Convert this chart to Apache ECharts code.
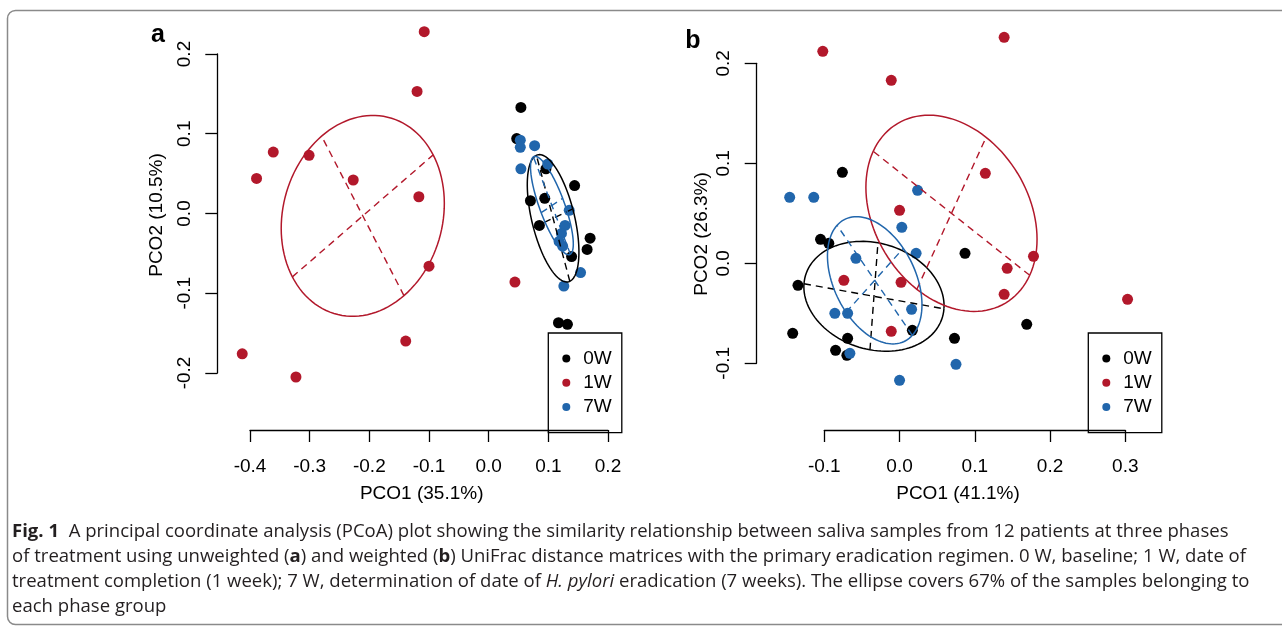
<!DOCTYPE html>
<html>
<head>
<meta charset="utf-8">
<script src="https://cdn.jsdelivr.net/npm/echarts@6/dist/echarts.min.js"></script>
<style>
  html, body { margin: 0; padding: 0; background: #fff; }
  #chart { width: 1282px; height: 628px; }
</style>
</head>
<body>
<div id="chart"></div>
<script>
// panel a - unweighted UniFrac, points as [PCO1, PCO2]
const a0W = [[0.054, 0.133], [0.047, 0.094], [0.096, 0.056], [0.144, 0.035], [0.070, 0.016], [0.094, 0.019],
             [0.085, -0.015], [0.170, -0.031], [0.165, -0.045], [0.139, -0.054], [0.117, -0.137], [0.132, -0.139]];
const a1W = [[-0.108, 0.228], [-0.120, 0.153], [-0.361, 0.077], [-0.301, 0.073], [-0.389, 0.044], [-0.227, 0.042],
             [-0.117, 0.021], [-0.100, -0.066], [0.044, -0.086], [-0.139, -0.160], [-0.413, -0.176], [-0.323, -0.205]];
const a7W = [[0.053, 0.092], [0.053, 0.083], [0.077, 0.085], [0.054, 0.056], [0.099, 0.062], [0.135, 0.004],
             [0.128, -0.015], [0.122, -0.025], [0.118, -0.035], [0.124, -0.041], [0.154, -0.074], [0.126, -0.091]];

// panel b - weighted UniFrac
const b0W = [[-0.076, 0.091], [-0.105, 0.024], [-0.094, 0.020], [0.087, 0.010], [-0.135, -0.022], [-0.142, -0.070],
             [-0.069, -0.075], [0.017, -0.067], [0.073, -0.075], [0.169, -0.061], [-0.085, -0.087], [-0.070, -0.092]];
const b1W = [[-0.102, 0.212], [0.139, 0.226], [-0.011, 0.183], [0.114, 0.090], [0.000, 0.053], [0.178, 0.007],
             [0.143, -0.005], [-0.074, -0.017], [0.002, -0.019], [0.139, -0.031], [0.303, -0.036], [-0.011, -0.068]];
const b7W = [[-0.146, 0.066], [-0.114, 0.066], [0.024, 0.073], [0.003, 0.036], [0.022, 0.010], [-0.058, 0.005],
             [-0.086, -0.050], [-0.069, -0.050], [0.016, -0.046], [-0.066, -0.090], [0.075, -0.101], [0.000, -0.117]];

// 67% ellipses: [centreX, centreY, semi-axis 1 (dx, dy), semi-axis 2 (dx, dy)]
const ellA0W = [0.108, -0.006, -0.028, 0.079, 0.033, 0.0117];
const ellA1W = [-0.211, -0.003, -0.069, 0.100, 0.118, 0.0765];
const ellA7W = [0.106, 0.010, -0.031, 0.061, 0.018, 0.009];
const ellB0W = [-0.034, -0.033, 0.093, -0.0125, 0.0053, 0.0535];
const ellB1W = [0.069, 0.050, -0.104, 0.062, 0.046, 0.076];
const ellB7W = [-0.033, -0.017, -0.050, 0.055, 0.038, 0.032];

const groups = ['0W', '1W', '7W'];
const colors = ['#000000', '#B2182B', '#2166AC'];
const ticksA = { x: [-0.4, 0.2], y: [-0.2, 0.2] };
const ticksB = { x: [-0.1, 0.3], y: [-0.1, 0.2] };

const FONT = 'Liberation Sans, Arial, sans-serif';
const CAP_FONT = 'Open Sans';

const chart = echarts.init(document.getElementById('chart'));

// ellipse outline plus its two axes (dashed)
function drawEllipse(params, api) {
  const cx = api.value(0), cy = api.value(1);
  const ux = api.value(2), uy = api.value(3), vx = api.value(4), vy = api.value(5);
  const pts = [];
  for (let k = 0; k <= 120; k++) {
    const t = k / 120 * 2 * Math.PI;
    pts.push(api.coord([cx + Math.cos(t) * ux + Math.sin(t) * vx, cy + Math.cos(t) * uy + Math.sin(t) * vy]));
  }
  const color = api.visual('color');
  const p1 = api.coord([cx - ux, cy - uy]), p2 = api.coord([cx + ux, cy + uy]);
  const q1 = api.coord([cx - vx, cy - vy]), q2 = api.coord([cx + vx, cy + vy]);
  const dash = { stroke: color, lineWidth: 1.4, lineDash: [7, 5], fill: null };
  return {
    type: 'group',
    children: [
      { type: 'polyline', shape: { points: pts }, style: { stroke: color, lineWidth: 1.5, fill: null } },
      { type: 'line', shape: { x1: p1[0], y1: p1[1], x2: p2[0], y2: p2[1] }, style: dash },
      { type: 'line', shape: { x1: q1[0], y1: q1[1], x2: q2[0], y2: q2[1] }, style: dash }
    ]
  };
}

function valueAxis(grid, range, offset, name, nameGap, namePad, isY) {
  return {
    type: 'value',
    gridIndex: grid,
    min: range[0],
    max: range[1],
    interval: 0.1,
    offset: offset,
    name: name,
    nameLocation: 'middle',
    nameGap: nameGap,
    nameTextStyle: { fontFamily: FONT, fontSize: 19, color: '#000', padding: namePad },
    axisLine: { show: true, onZero: false, lineStyle: { color: '#000', width: 1.3 } },
    axisTick: { show: true, length: 12, lineStyle: { color: '#000', width: 1.3 } },
    axisLabel: {
      fontFamily: FONT, fontSize: 19, color: '#000',
      margin: isY ? 23 : 27,
      rotate: isY ? 90 : 0,
      formatter: v => v.toFixed(1)
    },
    splitLine: { show: false }
  };
}

function legendBox(left) {
  return {
    data: groups,
    orient: 'vertical',
    left: left,
    top: 333,
    padding: [16, 10, 16, 14],
    itemWidth: 8,
    itemHeight: 8,
    itemGap: 5.3,
    icon: 'circle',
    borderColor: '#000',
    borderWidth: 1.3,
    selectedMode: false,
    textStyle: { fontFamily: FONT, fontSize: 19, color: '#000', lineHeight: 18, padding: [0, 0, 0, 8] }
  };
}

const series = [];
[[a0W, a1W, a7W], [b0W, b1W, b7W]].forEach((sets, p) => {
  const ells = p === 0 ? [ellA0W, ellA1W, ellA7W] : [ellB0W, ellB1W, ellB7W];
  sets.forEach((pts, i) => {
    series.push({
      type: 'scatter', name: groups[i], xAxisIndex: p, yAxisIndex: p,
      data: pts, symbolSize: 11, clip: false, silent: true, z: 3,
      itemStyle: { color: colors[i], opacity: 1 }
    });
    series.push({
      type: 'custom', name: 'ellipse ' + groups[i], xAxisIndex: p, yAxisIndex: p,
      data: [ells[i]], renderItem: drawEllipse, clip: false, silent: true, z: 4,
      itemStyle: { color: colors[i] }
    });
  });
});

// caption, squeezed horizontally to the column width of the journal layout
const capLines = [
  [['Fig. 1', 'b'], ['  A principal coordinate analysis (PCoA) plot showing the similarity relationship between saliva samples from 12 patients at three phases', 'n']],
  [['of treatment using unweighted (', 'n'], ['a', 'b'], [') and weighted (', 'n'], ['b', 'b'], [') UniFrac distance matrices with the primary eradication regimen. 0 W, baseline; 1 W, date of', 'n']],
  [['treatment completion (1 week); 7 W, determination of date of ', 'n'], ['H. pylori', 'i'], [' eradication (7 weeks). The ellipse covers 67% of the samples belonging to', 'n']],
  [['each phase group', 'n']]
];
const capSize = 18;
const ctx = document.createElement('canvas').getContext('2d');
function fontOf(k) {
  return (k === 'i' ? 'italic ' : '') + (k === 'b' ? 'bold ' : '') + capSize + 'px "' + CAP_FONT + '"';
}
function lineWidth(segs) {
  return segs.reduce((w, s) => { ctx.font = fontOf(s[1]); return w + ctx.measureText(s[0]).width; }, 0);
}
const capScale = (1246 - 12) / lineWidth(capLines[1]);
const capRich = {
  n: { fontFamily: CAP_FONT, fontSize: capSize, fill: '#231F20' },
  b: { fontFamily: CAP_FONT, fontSize: capSize, fontWeight: 'bold', fill: '#231F20' },
  i: { fontFamily: CAP_FONT, fontSize: capSize, fontStyle: 'italic', fill: '#231F20' }
};
const capY = [532, 557, 582, 607];
const graphics = capLines.map((segs, i) => ({
  type: 'text', x: 12, y: capY[i], scaleX: capScale,
  style: {
    text: segs.map(s => '{' + s[1] + '|' + s[0] + '}').join(''),
    rich: capRich, fontFamily: CAP_FONT, fontSize: capSize, verticalAlign: 'middle', align: 'left'
  }
}));
graphics.push(
  { type: 'rect', shape: { x: 7.5, y: 10.5, width: 1300, height: 614, r: 8 }, style: { fill: null, stroke: '#8a8a8a', lineWidth: 1.5 } },
  { type: 'text', x: 158, y: 35, style: { text: 'a', fontFamily: FONT, fontSize: 25, fontWeight: 'bold', fill: '#000', align: 'center', verticalAlign: 'middle' } },
  { type: 'text', x: 693, y: 41, style: { text: 'b', fontFamily: FONT, fontSize: 25, fontWeight: 'bold', fill: '#000', align: 'center', verticalAlign: 'middle' } }
);

chart.setOption({
  animation: false,
  backgroundColor: '#fff',
  grid: [
    { left: 250, top: 54, width: 358, height: 319 },
    { left: 824.3, top: 63.3, width: 301, height: 300 }
  ],
  xAxis: [
    valueAxis(0, ticksA.x, 57, 'PCO1 (35.1%)', 54, [0, 14.6, 0, 0], false),
    valueAxis(1, ticksB.x, 66.7, 'PCO1 (41.1%)', 54, [0, 33.6, 0, 0], false)
  ],
  yAxis: [
    valueAxis(0, ticksA.y, 32.7, 'PCO2 (10.5%)', 51, [0, 3, 0, 0], true),
    valueAxis(1, ticksB.y, 67.6, 'PCO2 (26.3%)', 45.5, [0, 41.4, 0, 0], true)
  ],
  legend: [legendBox(548.3), legendBox(1088.3)],
  graphic: graphics,
  series: series
});
</script>
</body>
</html>
